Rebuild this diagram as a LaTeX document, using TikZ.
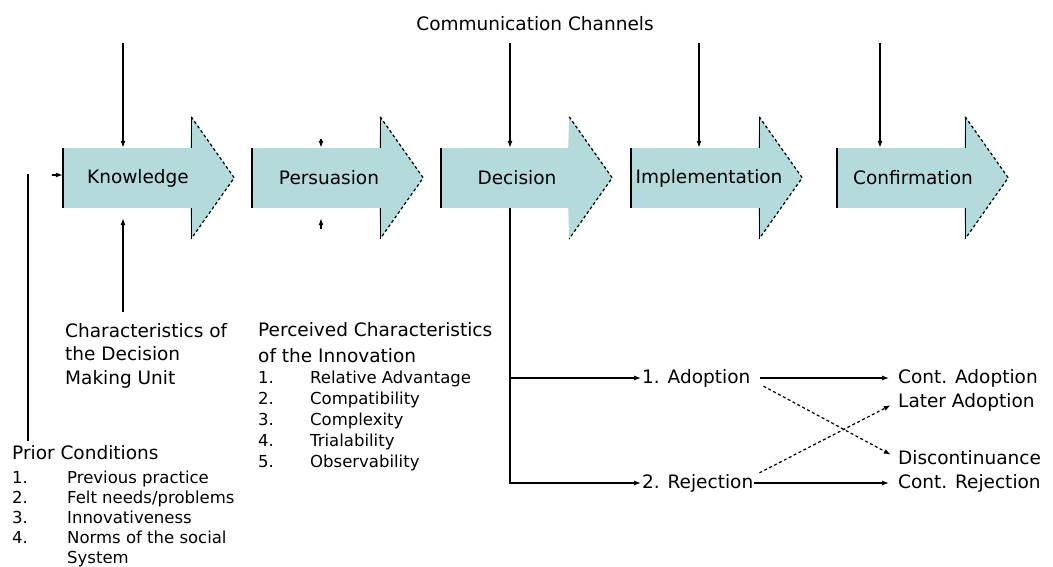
\documentclass[tikz,border=0pt]{standalone}
\usepackage{fontspec}
\setmainfont{DejaVu Sans}
\usetikzlibrary{arrows.meta,positioning}
\definecolor{stagefill}{RGB}{180,218,220}
\newcommand{\hdfont}{\fontsize{18.5}{23.5}\selectfont}
\newcommand{\lsfont}{\fontsize{16.5}{20}\selectfont}
\begin{document}
\begin{tikzpicture}[x=1pt,y=-1pt,every node/.style={font=\hdfont,inner sep=1pt},
  stage/.style={rectangle,fill=stagefill,minimum width=128,minimum height=60,inner sep=0pt},
  edge/.style={line width=1.4pt},
  headline/.style={line width=1.2pt,dash pattern=on 3pt off 2.5pt},
  conn/.style={line width=1.3pt},
  tip/.style={conn,-{Latex[length=7pt,width=5pt]}},
  dtip/.style={headline,-{Latex[length=7pt,width=5pt]}}]
\fill[white] (0,0) rectangle (1053,567);
\useasboundingbox (0,0) rectangle (1053,567);
% the five stages
\node[stage] (know) at (127,178) {};
\node[stage] (pers) at (316,178) {};
\node[stage] (deci) at (505,178) {};
\node[stage] (impl) at (695,178) {};
\node[stage] (conf) at (901,178) {};
\fill[stagefill] ([xshift=-1pt]know.north east) -- ++(1,-31) -- ++(43,61) -- ++(-43,61) -- ++(-1,-31) -- cycle;
\fill[stagefill] ([xshift=-1pt]pers.north east) -- ++(1,-31) -- ++(43,61) -- ++(-43,61) -- ++(-1,-31) -- cycle;
\fill[stagefill] ([xshift=-1pt]deci.north east) -- ++(1,-31) -- ++(43,61) -- ++(-43,61) -- ++(-1,-31) -- cycle;
\fill[stagefill] ([xshift=-1pt]impl.north east) -- ++(1,-31) -- ++(43,61) -- ++(-43,61) -- ++(-1,-31) -- cycle;
\fill[stagefill] ([xshift=-1pt]conf.north east) -- ++(1,-31) -- ++(43,61) -- ++(-43,61) -- ++(-1,-31) -- cycle;
\draw[edge] (know.north west) -- (know.south west) (know.north east) -- ++(0,-31) (know.south east) -- ++(0,31);
\draw[edge] (pers.north west) -- (pers.south west) (pers.north east) -- ++(0,-31) (pers.south east) -- ++(0,31);
\draw[edge] (deci.north west) -- (deci.south west);
\draw[edge] (impl.north west) -- (impl.south west) (impl.north east) -- ++(0,-31) (impl.south east) -- ++(0,31);
\draw[edge] (conf.north west) -- (conf.south west) (conf.north east) -- ++(0,-31) (conf.south east) -- ++(0,31);
\draw[headline] ([yshift=31pt]know.north east) -- ++(43,61) -- ++(-43,61);
\draw[headline] ([yshift=31pt]pers.north east) -- ++(43,61) -- ++(-43,61);
\draw[headline] ([yshift=31pt]deci.north east) -- ++(43,61) -- ++(-43,61);
\draw[headline] ([yshift=31pt]impl.north east) -- ++(43,61) -- ++(-43,61);
\draw[headline] ([yshift=31pt]conf.north east) -- ++(43,61) -- ++(-43,61);
\node (knowtxt) at ([xshift=11pt]know.center) {Knowledge};
\node (perstxt) at ([xshift=13pt]pers.center) {Persuasion};
\node (decitxt) at ([xshift=12pt]deci.center) {Decision};
\node (impltxt) at ([xshift=14pt]impl.center) {Implementation};
\node (conftxt) at ([xshift=12pt]conf.center) {Confirmation};
% communication channels
\node (comm) at (535,24) {Communication Channels};
\coordinate (ck) at (123,43); \coordinate (cd) at (510,43);
\coordinate (ci) at (699,43); \coordinate (cf) at (880,43);
\draw[tip] (ck) -- (ck |- know.north); \draw[tip] (cd) -- (cd |- deci.north);
\draw[tip] (ci) -- (ci |- impl.north); \draw[tip] (cf) -- (cf |- conf.north);
\coordinate (pt) at (321,139); \coordinate (pb) at (321,229);
\draw[tip] (pt) -- (pt |- pers.north); \draw[tip] (pb) -- ([yshift=-10pt]pb |- pers.south);
% characteristics below
\node[anchor=base west,inner sep=0pt] (dmu) at (65,337) {\begin{tabular}[t]{@{}l@{}}Characteristics of\\the Decision\\Making Unit\end{tabular}};
\coordinate (kb) at (123,312);
\draw[tip] (kb) -- ([yshift=-10pt]kb |- know.south);
\node[anchor=base west,inner sep=0pt] (perc) at (258,336) {\begin{tabular}[t]{@{}l@{}}Perceived Characteristics\\[2.5pt]of the Innovation\end{tabular}};
\node[anchor=base west,inner sep=0pt,font=\lsfont] (attr) at (258,383) {\renewcommand{\arraystretch}{1.05}\begin{tabular}[t]{@{}p{52pt}@{}l@{}}1.&Relative Advantage\\2.&Compatibility\\3.&Complexity\\4.&Trialability\\5.&Observability\end{tabular}};
% prior conditions
\node[anchor=base west,inner sep=0pt] (prior) at (12,459) {Prior Conditions};
\node[anchor=base west,inner sep=0pt,font=\lsfont] (pcond) at (12,483) {\begin{tabular}[t]{@{}p{55pt}@{}l@{}}1.&Previous practice\\2.&Felt needs/problems\\3.&Innovativeness\\4.&Norms of the social\\&System\end{tabular}};
\coordinate (pk) at (28,174);
\draw[conn] ([yshift=4pt]prior.north -| pk) -- (pk);
\draw[tip] ([xshift=-11pt,yshift=3pt]know.west) -- ([yshift=3pt]know.west);
% outcomes of the decision
\node[anchor=west] (adop) at (641,378) {1. Adoption};
\node[anchor=west] (rejc) at (641,483) {2. Rejection};
\node[anchor=west] (cad) at (897,378) {Cont. Adoption};
\node[anchor=west] (lad) at (897,402) {Later Adoption};
\node[anchor=west] (disc) at (897,458) {Discontinuance};
\node[anchor=west] (crj) at (897,483) {Cont. Rejection};
\draw[tip] ([xshift=5pt]deci.south) |- (adop.west);
\draw[tip] ([xshift=5pt]deci.south) |- (rejc.west);
\draw[tip,shorten <=9pt,shorten >=8pt] (adop.east) -- (cad.west);
\draw[tip,shorten >=8pt] (rejc.east) -- (crj.west);
\draw[dtip,shorten >=7pt] ([xshift=12pt,yshift=2pt]adop.south east) -- (disc.west);
\draw[dtip,shorten >=7pt] ([xshift=5pt]rejc.north east) -- (lad.west);
\end{tikzpicture}
\end{document}
